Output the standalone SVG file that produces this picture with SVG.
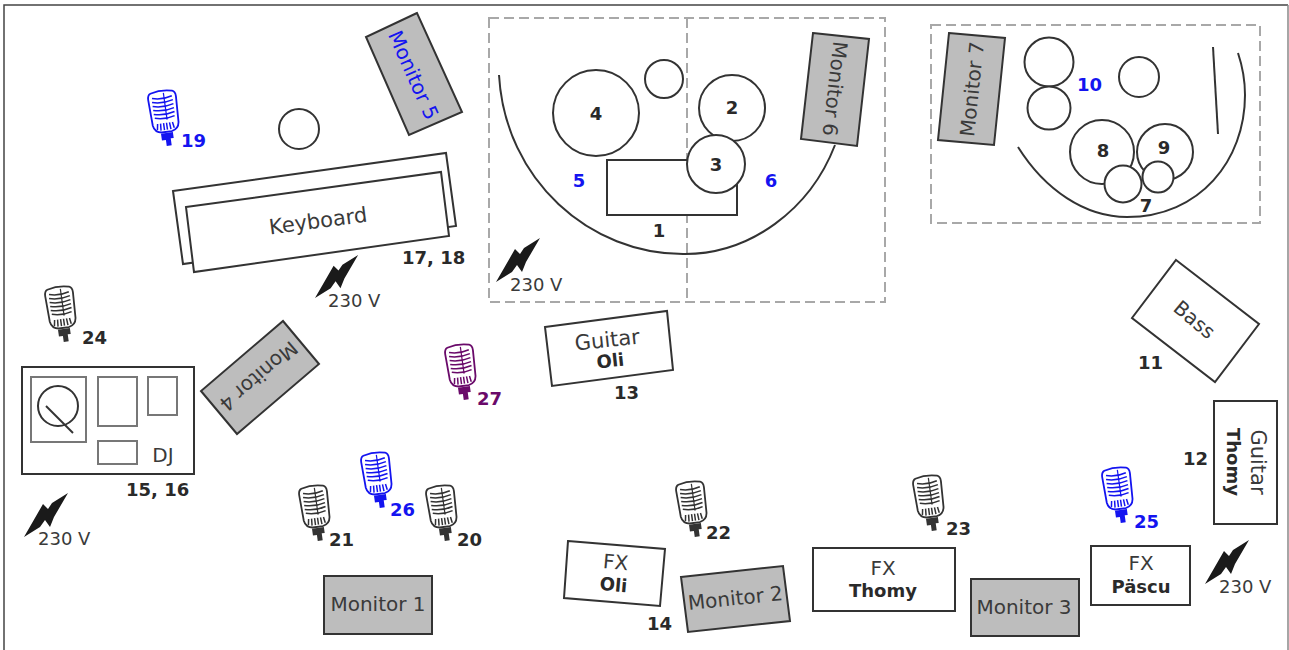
<svg xmlns="http://www.w3.org/2000/svg" width="1289" height="650" viewBox="0 0 1289 650">
<style>
text{font-family:"DejaVu Sans",Verdana,sans-serif;fill:#3a3a3a}
.t{font-size:20px;text-anchor:middle}
.v{font-size:18px}
.n{font-size:18px;font-weight:bold;fill:#2a2a2a}
.s{font-size:18px;font-weight:bold;text-anchor:middle;fill:#2a2a2a}
.b{fill:#1414f0}
.box{fill:#fff;stroke:#333;stroke-width:2}
.mon{fill:#bdbdbd;stroke:#333;stroke-width:2}
.ln{fill:none;stroke:#333;stroke-width:2}
.grey{fill:#fff;stroke:#777;stroke-width:2}
.dash{fill:none;stroke:#a8a8a8;stroke-width:2;stroke-dasharray:10 5}
.bolt{fill:#1a1a1a}
</style>
<defs>
<g id="mic">
<path d="M-11,-20Q0,-23 11,-20Q14,-19 14,-14L13,12Q12,19 5,20H-5Q-12,19 -13,12L-14,-14Q-14,-19 -11,-20Z" fill="#fff" stroke="currentColor" stroke-width="1.800"/>
<path d="M-10,-15Q0,-12 10,-15M-10.500,-11Q0,-8 10.500,-11M-10.500,-7Q0,-4 10.500,-7M-10.500,-3Q0,0 10.500,-3M-10.500,1Q0,4 10.500,1M-10,5Q0,8 10,5" fill="none" stroke="currentColor" stroke-width="1.500"/>
<path d="M2,-19V8" fill="none" stroke="currentColor" stroke-width="1.200"/>
<path d="M-8,11L-9,17M-5,11L-5.500,18M-2,11V18M1,11V18M4,11L4.500,18M7,11L8,17" fill="none" stroke="currentColor" stroke-width="1.500"/>
<path d="M-6,21H6V27H3V34H-2V28H-6Z" fill="currentColor"/>
</g>
<path id="bolt" class="bolt" d="M0,0L19,-33L24,-28L28,-34L44,-44L30,-20L26,-10L21,-17L16,-10Z"/>
</defs>
<rect width="1289" height="650" fill="#fff"/>
<path d="M4,650V5H1288" fill="none" stroke="#444" stroke-width="1.500"/>
<path d="M1288,5V650" fill="none" stroke="#888" stroke-width="1.500"/>

<g id="connectors">
<rect class="dash" x="489" y="18" width="396" height="284"/>
<path class="dash" d="M687,18V302"/>
<rect class="dash" x="931" y="25" width="329" height="198"/>
<path class="ln" d="M499,75C505,180 590,255 685,254C750,254 810,210 835,145"/>
<path class="ln" d="M1018,147C1045,190 1085,217 1127,217C1200,217 1245,160 1245,95C1245,80 1242,65 1238,53"/>
<path class="ln" d="M1213,47L1218,134"/>
</g>

<g id="keyboard">
<polygon class="box" points="173,191 446,153 456,226 183,264"/>
<polygon class="box" points="186,207 441,172 449,236 194,272"/>
<text class="t" style="font-size:21px" transform="translate(319,228) rotate(-7.500)">Keyboard</text>
<text class="n" x="402" y="264">17, 18</text>
</g>
<g id="stool"><circle class="box" cx="299" cy="129" r="20"/></g>
<g id="monitor5">
<polygon class="mon" points="417,13 366,37 409,135 462,112"/>
<text class="t b" transform="translate(407,78) rotate(66)">Monitor 5</text>
</g>
<g id="drums">
<rect class="box" x="607" y="160" width="130" height="55"/>
<circle class="box" cx="596" cy="113" r="43"/>
<circle class="box" cx="664" cy="79" r="19"/>
<circle class="box" cx="732" cy="108" r="33"/>
<circle class="box" cx="716" cy="164" r="29"/>
<text class="s" x="659" y="237">1</text>
<text class="s" x="732" y="114">2</text>
<text class="s" x="716" y="171">3</text>
<text class="s" x="596" y="120">4</text>
<text class="s b" x="579" y="187">5</text>
<text class="s b" x="771" y="187">6</text>
</g>
<g id="monitor6">
<polygon class="mon" points="813,33 869,39 857,146 801,139"/>
<text class="t" transform="translate(828,88) rotate(96.500)">Monitor 6</text>
</g>
<g id="monitor7">
<polygon class="mon" points="949,33 1005,38 994,145 938,140"/>
<text class="t" transform="translate(979,90) rotate(-84)">Monitor 7</text>
</g>
<g id="percussion">
<circle class="box" cx="1049" cy="62" r="24.500"/>
<circle class="box" cx="1049" cy="108" r="21.500"/>
<circle class="box" cx="1139" cy="77" r="20"/>
<circle class="box" cx="1102" cy="152" r="32"/>
<circle class="box" cx="1165" cy="152" r="28"/>
<circle class="box" cx="1123" cy="184" r="18.500"/>
<circle class="box" cx="1158" cy="177" r="15.500"/>
<text class="s" x="1103" y="157">8</text>
<text class="s" x="1164" y="154">9</text>
<text class="s" x="1146" y="212">7</text>
<text class="n b" x="1077" y="91">10</text>
</g>
<g id="bass">
<polygon class="box" points="1176,260 1259,324 1215,382 1132,318"/>
<text class="t" transform="translate(1190,325) rotate(40)">Bass</text>
<text class="n" x="1138" y="369">11</text>
</g>
<g id="guitar-oli">
<polygon class="box" points="545,327 667,311 673,370 552,386"/>
<text class="t" style="font-size:21px" transform="translate(608,347) rotate(-6)">Guitar</text>
<text class="s" transform="translate(611,367) rotate(-6)">Oli</text>
<text class="n" x="614" y="399">13</text>
</g>
<g id="guitar-thomy">
<rect class="box" x="1214" y="401" width="63" height="123"/>
<text class="t" style="font-size:21px" transform="translate(1251,462) rotate(90)">Guitar</text>
<text class="s" transform="translate(1227,462) rotate(90)">Thomy</text>
<text class="n" x="1183" y="465">12</text>
</g>
<g id="dj">
<rect class="box" x="22" y="367" width="172" height="107"/>
<rect class="grey" x="31" y="377" width="55" height="65"/>
<circle class="ln" cx="58" cy="406" r="20"/>
<path class="ln" d="M46,406L73,433"/>
<rect class="grey" x="98" y="377" width="39" height="49"/>
<rect class="grey" x="148" y="377" width="29" height="38"/>
<rect class="grey" x="98" y="441" width="39" height="23"/>
<text class="t" x="163" y="462">DJ</text>
<text class="n" x="126" y="496">15, 16</text>
</g>
<g id="monitor4">
<polygon class="mon" points="283,321 319,364 237,434 201,391"/>
<text class="t" transform="translate(254,371) rotate(139.500)">Monitor 4</text>
</g>
<g id="monitor1">
<rect class="mon" x="324" y="576" width="108" height="58"/>
<text class="t" x="378" y="611">Monitor 1</text>
</g>
<g id="monitor2">
<polygon class="mon" points="681,577 783,566 790,621 688,632"/>
<text class="t" transform="translate(736,605) rotate(-6)">Monitor 2</text>
</g>
<g id="monitor3">
<rect class="mon" x="971" y="579" width="108" height="57"/>
<text class="t" x="1024" y="614">Monitor 3</text>
</g>
<g id="fx-oli">
<polygon class="box" points="568,541 665,549 660,606 564,598"/>
<text class="t" transform="translate(615,569) rotate(5)">FX</text>
<text class="s" transform="translate(613,591) rotate(5)">Oli</text>
<text class="n" x="647" y="630">14</text>
</g>
<g id="fx-thomy">
<rect class="box" x="813" y="548" width="142" height="63"/>
<text class="t" x="883" y="575">FX</text>
<text class="s" x="883" y="597">Thomy</text>
</g>
<g id="fx-pascu">
<rect class="box" x="1091" y="546" width="99" height="59"/>
<text class="t" x="1141" y="570">FX</text>
<text class="s" x="1141" y="593">Päscu</text>
</g>

<g id="power">
<use href="#bolt" transform="translate(24,537)"/><text class="v" x="38" y="545">230 V</text>
<use href="#bolt" transform="translate(315,298) scale(.98)"/><text class="v" x="328" y="307">230 V</text>
<use href="#bolt" transform="translate(496,282)"/><text class="v" x="510" y="291">230 V</text>
<use href="#bolt" transform="translate(1205,584)"/><text class="v" x="1219" y="593">230 V</text>
</g>

<g id="mic19"><use href="#mic" transform="translate(164,112) rotate(-8)" color="#1414f0"/><text class="n b" x="181" y="147">19</text></g>
<g id="mic24"><use href="#mic" transform="translate(61,308) rotate(-8)" color="#333"/><text class="n" x="82" y="344">24</text></g>
<g id="mic21"><use href="#mic" transform="translate(315,507) rotate(-8)" color="#333"/><text class="n" x="329" y="546">21</text></g>
<g id="mic26"><use href="#mic" transform="translate(377,474) rotate(-8)" color="#1414f0"/><text class="n b" x="390" y="516">26</text></g>
<g id="mic20"><use href="#mic" transform="translate(442,507) rotate(-8)" color="#333"/><text class="n" x="457" y="546">20</text></g>
<g id="mic27"><use href="#mic" transform="translate(461,366) rotate(-8)" color="#6a0a6a"/><text class="n" style="fill:#6a0a6a" x="477" y="405">27</text></g>
<g id="mic22"><use href="#mic" transform="translate(692,503) rotate(-8)" color="#333"/><text class="n" x="706" y="539">22</text></g>
<g id="mic23"><use href="#mic" transform="translate(929,497) rotate(-8)" color="#333"/><text class="n" x="946" y="535">23</text></g>
<g id="mic25"><use href="#mic" transform="translate(1118,489) rotate(-8)" color="#1414f0"/><text class="n b" x="1134" y="528">25</text></g>
</svg>
